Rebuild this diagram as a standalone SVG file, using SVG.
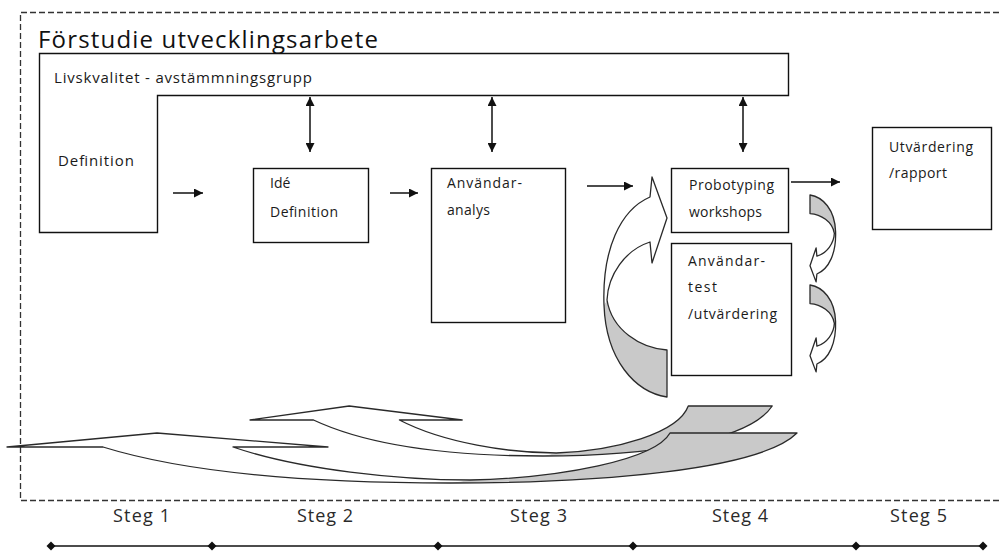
<svg xmlns="http://www.w3.org/2000/svg" xmlns:xlink="http://www.w3.org/1999/xlink" width="999" height="551" viewBox="0 0 999 551">
<style>
  text { font-family: "Open Sans", "Noto Sans", "Liberation Sans", sans-serif; fill: #1a1a1a; }
  .lbl { font-size: 14px; }
  .steg { font-size: 18px; fill: #2a2a2a; }
  .box { fill: #ffffff; stroke: #111111; stroke-width: 1.4; }
  .conn { stroke: #111111; stroke-width: 1.5; fill: none; }
  .ol { fill: none; stroke: #2a2a2a; stroke-width: 1.3; vector-effect: non-scaling-stroke; stroke-linejoin: round; }
  .wf { fill: #ffffff; stroke: none; }
  .gf { fill: #c9c9c9; stroke: none; }
  .frame { fill: none; stroke: #333333; stroke-width: 1.3; stroke-dasharray: 6 3; }
  .tl { stroke: #111111; stroke-width: 1.6; fill: none; }
</style>
<defs>
  <marker id="ah" viewBox="0 0 10 10" refX="10" refY="5" markerWidth="10" markerHeight="9" markerUnits="userSpaceOnUse" orient="auto-start-reverse">
    <path d="M0,0 L10,5 L0,10 Z" fill="#111111"/>
  </marker>
  <g id="cra">
    <path class="gf" d="M 607,300 C 612,330 640,348 667,350 L 667,397 C 635,392 606,360 604,305 Z"/>
    <path class="wf" d="M 650,197 L 652,177 L 667,218 L 652,263 L 650,242 C 625,250 608,275 607,300 L 604,305 C 602,250 620,210 650,197 Z"/>
    <path class="ol" d="M 650,197 L 652,177 L 667,218 L 652,263 L 650,242 C 625,250 608,275 607,300 C 612,330 640,348 667,350 L 667,397 C 635,392 606,360 604,305 C 602,250 620,210 650,197 Z"/>
  </g>
  <g id="cua">
    <path class="gf" d="M 470,480 C 560,478 655,460 670,433 L 797,433 C 760,470 600,483 450,483 Z"/>
    <path class="wf" d="M 7,447 L 157,433 L 328,447 L 233,447 C 300,470 400,480 470,480 L 450,483 C 320,483 190,474 103,447 Z"/>
    <path class="ol" d="M 103,447 L 7,447 L 157,433 L 328,447 L 233,447 C 300,470 400,480 470,480 C 560,478 655,460 670,433 L 797,433 C 760,470 600,483 450,483 C 320,483 190,474 103,447 Z"/>
  </g>
  <path id="dia" d="M -4.5,0 L 0,-4.5 L 4.5,0 L 0,4.5 Z" fill="#111111"/>
</defs>

<rect width="999" height="551" fill="#ffffff"/>

<!-- dashed frame -->
<path class="frame" d="M 999,12.5 H 20.5 V 500.5 H 999"/>

<text x="38" y="48" style="font-size:24px; fill:#111111" textLength="340">Förstudie utvecklingsarbete</text>

<g id="livskvalitet">
  <path class="box" d="M 39.5,53.5 H 788.5 V 95.5 H 157.5 V 232.5 H 39.5 Z"/>
  <text class="lbl" x="54" y="83" style="font-size:15px" textLength="258">Livskvalitet - avstämmningsgrupp</text>
  <text class="lbl" x="58" y="166" style="font-size:15px" textLength="76">Definition</text>
</g>

<g id="ide-definition">
  <rect class="box" x="253.5" y="168.5" width="115" height="74"/>
  <text class="lbl" x="270" y="188">Idé</text>
  <text class="lbl" x="270" y="217" textLength="68">Definition</text>
</g>

<g id="anvandaranalys">
  <rect class="box" x="431.5" y="168.5" width="134" height="154"/>
  <text class="lbl" x="447" y="188" textLength="75">Användar-</text>
  <text class="lbl" x="447" y="215" textLength="43">analys</text>
</g>

<g id="probotyping">
  <rect class="box" x="671.5" y="168.5" width="117" height="64"/>
  <text class="lbl" x="689" y="190" textLength="85">Probotyping</text>
  <text class="lbl" x="689" y="217" textLength="73">workshops</text>
</g>

<g id="anvandartest">
  <rect class="box" x="671.5" y="243.5" width="120" height="132"/>
  <text class="lbl" x="688" y="266" textLength="77">Användar-</text>
  <text class="lbl" x="688" y="292" textLength="29">test</text>
  <text class="lbl" x="688" y="319" textLength="89">/utvärdering</text>
</g>

<g id="utvardering">
  <rect class="box" x="872.5" y="127.5" width="119" height="102"/>
  <text class="lbl" x="889" y="152" textLength="84">Utvärdering</text>
  <text class="lbl" x="889" y="178" textLength="58">/rapport</text>
</g>

<g id="connectors">
  <line class="conn" x1="310" y1="97" x2="310" y2="152" marker-start="url(#ah)" marker-end="url(#ah)"/>
  <line class="conn" x1="492" y1="97" x2="492" y2="152" marker-start="url(#ah)" marker-end="url(#ah)"/>
  <line class="conn" x1="743" y1="97" x2="743" y2="152" marker-start="url(#ah)" marker-end="url(#ah)"/>
  <line class="conn" x1="173" y1="193" x2="203" y2="193" marker-end="url(#ah)"/>
  <line class="conn" x1="390" y1="193" x2="418" y2="193" marker-end="url(#ah)"/>
  <line class="conn" x1="587" y1="186" x2="633" y2="186" marker-end="url(#ah)"/>
  <line class="conn" x1="791" y1="182" x2="840" y2="182" marker-end="url(#ah)"/>
</g>

<g id="loop-arrows">
  <use xlink:href="#cra"/>
  <use xlink:href="#cra" transform="matrix(-0.406 0 0 -0.395 1080.8 351.8)"/>
  <use xlink:href="#cra" transform="matrix(-0.406 0 0 -0.395 1080.8 441.8)"/>
</g>

<g id="return-arrows">
  <use xlink:href="#cua" transform="matrix(0.661 0 0 1 245.4 -27)"/>
  <use xlink:href="#cua"/>
</g>

<g id="timeline">
  <line class="tl" x1="51" y1="546" x2="983" y2="546"/>
  <use xlink:href="#dia" x="51" y="546"/>
  <use xlink:href="#dia" x="212" y="546"/>
  <use xlink:href="#dia" x="438" y="546"/>
  <use xlink:href="#dia" x="633" y="546"/>
  <use xlink:href="#dia" x="856" y="546"/>
  <use xlink:href="#dia" x="983" y="546"/>
  <text class="steg" x="113" y="522" textLength="57">Steg 1</text>
  <text class="steg" x="297" y="522" textLength="56">Steg 2</text>
  <text class="steg" x="510" y="522" textLength="57">Steg 3</text>
  <text class="steg" x="712" y="522" textLength="56">Steg 4</text>
  <text class="steg" x="890" y="522" textLength="57">Steg 5</text>
</g>
</svg>
